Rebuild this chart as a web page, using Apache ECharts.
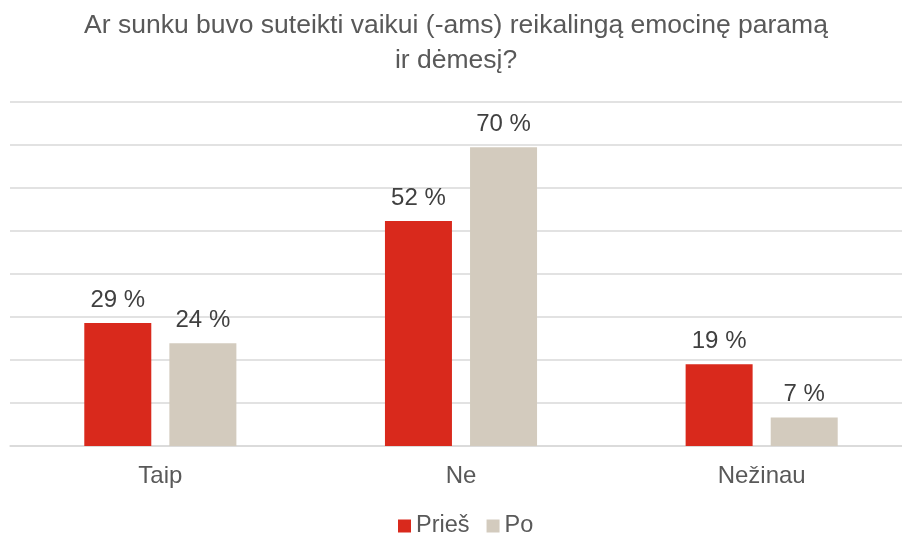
<!DOCTYPE html>
<html>
<head>
<meta charset="utf-8">
<script src="https://cdn.jsdelivr.net/npm/echarts@6/dist/echarts.min.js"></script>
<style>
  html, body { margin: 0; padding: 0; background: #fff; overflow: hidden; }
  /* the plot area runs past the right edge of the window, so the div is a bit wider */
  #chart { width: 912px; height: 535px; }
</style>
</head>
<body>
<div id="chart"></div>
<script>
var categories = ['Taip', 'Ne', 'Nežinau'];
var pries = [28.6, 52.3, 19.0];
var po = [23.9, 69.5, 6.6];
var seriesNames = ['Prieš', 'Po'];

var FONT = '"Liberation Sans", Arial, sans-serif';
var myChart = echarts.init(document.getElementById('chart'));

var labelStyle = {
    show: true,
    position: 'top',
    distance: 11,
    fontFamily: FONT,
    fontSize: 24,
    color: '#404040',
    formatter: function(p) {
        return Math.round(p.value) + ' %';
    }
};

myChart.setOption({
    textStyle: { fontFamily: FONT },
    title: {
        text: 'Ar sunku buvo suteikti vaikui (-ams) reikalingą emocinę paramą\nir dėmesį?',
        left: 'center',
        top: 3,
        textStyle: {
            fontFamily: FONT,
            fontSize: 26.5,
            fontWeight: 'normal',
            color: '#595959',
            lineHeight: 35
        }
    },
    legend: {
        top: 514,
        left: 398,
        padding: 0,
        itemWidth: 13,
        itemHeight: 13,
        itemGap: 17,
        icon: 'rect',
        textStyle: { fontFamily: FONT, fontSize: 23.5, color: '#595959' },
        data: seriesNames
    },
    grid: {
        left: 10,
        right: 0,
        top: 102,
        bottom: 89
    },
    xAxis: {
        type: 'category',
        data: categories,
        axisTick: { show: false },
        axisLine: { lineStyle: { color: '#d9d9d9', width: 1.5 } },
        axisLabel: { fontFamily: FONT, fontSize: 24, color: '#595959', margin: 18 }
    },
    yAxis: {
        type: 'value',
        min: 0,
        max: 80,
        interval: 10,
        axisLabel: { show: false },
        axisLine: { show: false },
        axisTick: { show: false },
        splitLine: { lineStyle: { color: '#d9d9d9', width: 1.5 } }
    },
    series: [{
        name: seriesNames[0],
        type: 'bar',
        data: pries,
        barWidth: 67,
        barGap: '27%',
        itemStyle: { color: '#d9291c' },
        label: labelStyle
    }, {
        name: seriesNames[1],
        type: 'bar',
        data: po,
        barWidth: 67,
        itemStyle: { color: '#d3cbbe' },
        label: labelStyle
    }]
});
</script>
</body>
</html>
